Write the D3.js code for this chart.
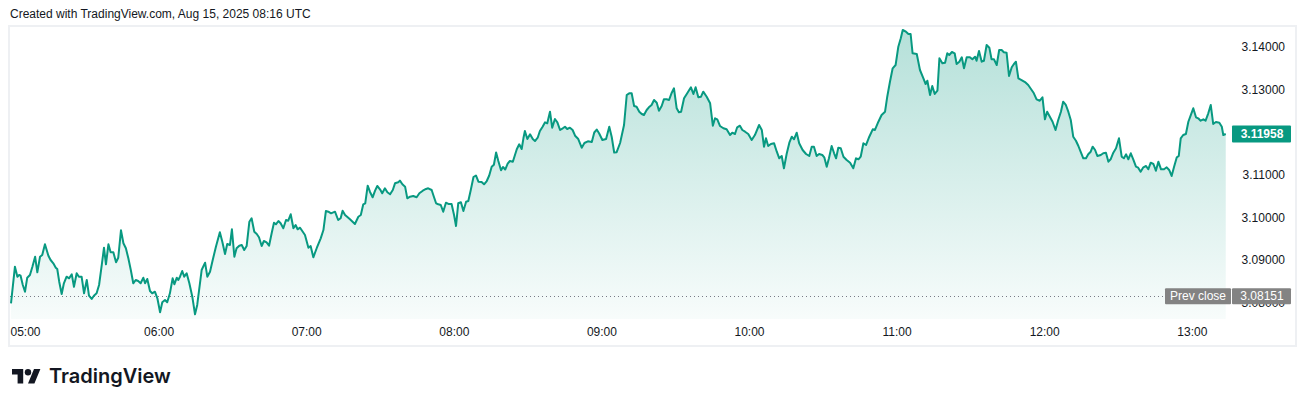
<!DOCTYPE html>
<html>
<head>
<meta charset="utf-8">
<script src="https://cdn.jsdelivr.net/npm/d3@7"></script>
<style>
  html, body { margin: 0; padding: 0; background: #ffffff; }
  svg { display: block; font-family: "Liberation Sans", Arial, sans-serif; }
</style>
</head>
<body>
<div id="chart"></div>
<script>
// minutes after 05:00 (UTC) for each traced point
const minutes = [
  0.0, 1.6, 2.6, 3.3, 3.9, 4.8, 5.7, 6.6, 7.7, 8.7, 9.8, 10.7, 11.8, 12.7, 13.8, 15.2, 16.1, 17.2, 18.2, 18.8,
  19.6, 20.6, 21.5, 22.6, 23.6, 24.7, 25.6, 26.7, 27.6, 28.7, 29.7, 30.8, 31.7, 32.8, 33.7, 34.8, 35.8, 36.9, 37.8, 38.6,
  39.6, 40.5, 41.6, 42.7, 43.6, 44.7, 45.7, 46.7, 47.7, 48.7, 49.7, 50.7, 51.7, 52.7, 53.8, 54.5, 55.4, 56.5, 57.4, 58.5,
  59.5, 60.6, 61.5, 62.6, 63.5, 64.6, 65.7, 66.4, 67.4, 68.0, 68.7, 69.6, 70.4, 71.4, 72.5, 73.7, 74.8, 75.7, 77.5, 78.9,
  79.8, 80.9, 82.0, 83.3, 84.9, 85.9, 87.0, 87.9, 89.0, 89.8, 90.8, 91.7, 92.8, 93.8, 94.8, 95.8, 96.9, 97.8, 98.9, 99.9,
  100.8, 101.9, 102.8, 103.9, 104.9, 106.0, 106.9, 107.7, 108.7, 109.6, 110.7, 111.8, 112.7, 113.7, 114.8, 115.7, 116.5, 117.5, 119.5, 120.9,
  121.8, 122.9, 124.3, 125.9, 127.0, 128.0, 129.0, 130.1, 131.7, 133.0, 134.0, 134.8, 135.8, 137.8, 139.8, 141.2, 142.2, 143.2, 144.0, 145.0,
  145.9, 147.0, 148.0, 148.9, 150.0, 150.9, 152.0, 153.0, 154.1, 155.2, 156.1, 157.4, 158.1, 159.1, 160.2, 161.1, 162.2, 163.5, 164.9, 166.0,
  167.4, 168.7, 169.6, 171.0, 171.9, 172.8, 173.7, 174.7, 175.7, 176.8, 177.8, 179.1, 180.1, 180.9, 181.8, 182.9, 183.9, 185.0, 185.9, 186.9,
  188.0, 189.0, 190.0, 191.3, 192.3, 193.4, 194.4, 195.4, 196.3, 197.2, 198.1, 199.2, 200.0, 200.9, 201.9, 202.8, 204.0, 205.6, 206.6, 207.6,
  208.3, 208.9, 209.9, 211.0, 212.1, 213.0, 214.1, 215.0, 216.1, 217.1, 218.0, 219.1, 220.0, 221.1, 222.1, 223.2, 224.3, 225.2, 226.1, 227.2,
  228.3, 229.3, 230.6, 232.0, 233.1, 234.5, 236.1, 237.1, 238.1, 239.1, 240.4, 241.9, 243.2, 244.2, 245.2, 246.2, 247.6, 249.2, 250.3, 251.3,
  252.3, 253.3, 254.3, 255.4, 256.4, 257.3, 258.4, 259.3, 260.4, 261.4, 262.5, 263.4, 264.5, 265.4, 266.5, 267.5, 268.6, 269.5, 270.6, 271.5,
  272.4, 273.6, 274.7, 275.7, 276.4, 277.4, 278.3, 279.4, 280.5, 281.4, 282.8, 284.2, 285.3, 286.2, 287.1, 288.2, 289.6, 290.9, 292.3, 293.2,
  294.3, 295.2, 296.3, 297.3, 298.4, 299.7, 301.1, 302.4, 304.1, 305.2, 306.1, 306.9, 307.8, 308.9, 310.2, 311.3, 312.3, 313.3, 314.2, 315.3,
  316.4, 317.4, 318.3, 319.4, 320.4, 321.8, 323.2, 324.5, 325.5, 326.4, 327.5, 328.5, 329.8, 330.6, 331.6, 332.5, 333.6, 334.6, 335.4, 336.3,
  337.3, 338.4, 339.7, 341.1, 342.4, 343.5, 344.5, 345.4, 346.5, 347.6, 348.9, 350.3, 351.2, 352.6, 353.9, 355.3, 356.2, 357.3, 358.4, 359.6,
  360.7, 361.7, 362.5, 363.8, 364.8, 365.7, 366.5, 368.2, 369.5, 370.9, 371.8, 372.5, 373.6, 374.5, 375.5, 376.6, 377.4, 378.6, 379.7, 380.6,
  381.4, 382.5, 383.6, 384.4, 385.5, 386.5, 387.4, 388.5, 389.8, 390.8, 391.9, 392.5, 393.5, 394.6, 395.5, 396.6, 397.7, 398.6, 399.6, 400.7,
  401.7, 402.7, 403.6, 404.7, 405.7, 406.8, 407.7, 408.5, 409.5, 410.8, 412.2, 413.5, 414.9, 415.8, 416.9, 418.2, 419.3, 420.3, 421.2, 422.3,
  423.4, 424.6, 425.7, 426.8, 427.7, 428.8, 429.8, 430.8, 431.8, 432.9, 433.9, 434.8, 435.9, 437.0, 437.9, 438.9, 439.7, 440.7, 441.6, 443.0,
  444.0, 445.1, 446.1, 447.0, 448.1, 449.2, 450.4, 451.5, 452.4, 453.3, 454.2, 455.2, 456.2, 457.3, 458.2, 459.2, 460.3, 461.4, 462.3, 463.3,
  464.4, 465.4, 466.4, 467.5, 468.7, 469.8, 470.8, 471.8, 472.8, 473.9, 474.7, 475.5, 476.5, 477.6, 478.6, 479.7, 480.6, 481.7, 482.6, 483.6,
  484.7, 485.6, 486.7, 487.7, 488.7, 489.8, 491.2, 492.2, 492.8, 493.8
];

const prices = [
  3.07984, 3.08843, 3.08608, 3.08648, 3.08631, 3.08413, 3.08256, 3.08585, 3.08648, 3.08843, 3.09077, 3.08711, 3.09077, 3.09117, 3.09369, 3.09101, 3.09000, 3.08923, 3.08819, 3.08789,
  3.08491, 3.08202, 3.08453, 3.08608, 3.08570, 3.08664, 3.08373, 3.08688, 3.08608, 3.08608, 3.08218, 3.08531, 3.08162, 3.08085, 3.08162, 3.08218, 3.08413, 3.08883, 3.09289, 3.08899,
  3.09369, 3.09181, 3.09181, 3.08946, 3.09054, 3.09697, 3.09392, 3.09275, 3.09040, 3.08765, 3.08453, 3.08531, 3.08507, 3.08453, 3.08585, 3.08453, 3.08554, 3.08272, 3.08218, 3.08256,
  3.08101, 3.07772, 3.08007, 3.08061, 3.08007, 3.08218, 3.08570, 3.08430, 3.08585, 3.08531, 3.08608, 3.08742, 3.08608, 3.08688, 3.08453, 3.08138, 3.07725, 3.07944, 3.08765, 3.08937,
  3.08608, 3.08725, 3.09000, 3.09312, 3.09650, 3.09430, 3.09141, 3.09376, 3.09352, 3.09721, 3.09077, 3.09275, 3.09336, 3.09352, 3.09235, 3.09329, 3.09899, 3.09979, 3.09664, 3.09610,
  3.09533, 3.09329, 3.09446, 3.09415, 3.09336, 3.09641, 3.09876, 3.09838, 3.09915, 3.09862, 3.09744, 3.09939, 3.09923, 3.10073, 3.09744, 3.09822, 3.09721, 3.09758, 3.09587, 3.09289,
  3.09329, 3.09063, 3.09282, 3.09509, 3.09704, 3.10150, 3.10134, 3.10096, 3.10134, 3.09939, 3.09979, 3.10157, 3.10056, 3.09955, 3.09845, 3.10016, 3.10056, 3.10308, 3.10331, 3.10744,
  3.10603, 3.10472, 3.10627, 3.10737, 3.10660, 3.10566, 3.10683, 3.10589, 3.10542, 3.10643, 3.10800, 3.10824, 3.10862, 3.10777, 3.10721, 3.10448, 3.10486, 3.10502, 3.10472, 3.10566,
  3.10627, 3.10667, 3.10683, 3.10643, 3.10486, 3.10331, 3.10308, 3.10291, 3.10134, 3.10345, 3.10315, 3.10315, 3.10056, 3.09798, 3.10331, 3.10355, 3.10150, 3.10369, 3.10385, 3.10643,
  3.10948, 3.10984, 3.10838, 3.10831, 3.10777, 3.10854, 3.10984, 3.11190, 3.11237, 3.11523, 3.11324, 3.11106, 3.11183, 3.11124, 3.11261, 3.11324, 3.11308, 3.11599, 3.11716, 3.11606,
  3.11857, 3.12028, 3.11840, 3.11951, 3.11840, 3.11793, 3.11871, 3.12028, 3.12129, 3.12232, 3.12209, 3.12481, 3.12106, 3.12310, 3.12232, 3.12052, 3.12092, 3.12129, 3.12075, 3.12106,
  3.12052, 3.11918, 3.11840, 3.11636, 3.11747, 3.11786, 3.11770, 3.11993, 3.12063, 3.11970, 3.11817, 3.11840, 3.12129, 3.11887, 3.11523, 3.11531, 3.11747, 3.12169, 3.12873, 3.12913,
  3.12913, 3.12615, 3.12599, 3.12481, 3.12427, 3.12404, 3.12521, 3.12585, 3.12639, 3.12756, 3.12692, 3.12505, 3.12615, 3.12772, 3.12772, 3.12756, 3.12927, 3.13031, 3.12561, 3.12467,
  3.12481, 3.12796, 3.12897, 3.12991, 3.13054, 3.12897, 3.13054, 3.12819, 3.12833, 3.12951, 3.12833, 3.12678, 3.12153, 3.12326, 3.12303, 3.12146, 3.12092, 3.12068, 3.11934, 3.11988,
  3.11958, 3.12115, 3.12153, 3.12052, 3.12012, 3.11958, 3.11817, 3.11934, 3.12169, 3.12052, 3.11660, 3.11857, 3.11676, 3.11723, 3.11739, 3.11542, 3.11387, 3.11441, 3.11153, 3.11488,
  3.11754, 3.11894, 3.11833, 3.11988, 3.11739, 3.11582, 3.11488, 3.11441, 3.11660, 3.11660, 3.11441, 3.11488, 3.11465, 3.11411, 3.11190, 3.11387, 3.11676, 3.11505, 3.11387, 3.11636,
  3.11622, 3.11425, 3.11347, 3.11284, 3.11153, 3.11387, 3.11364, 3.11425, 3.11739, 3.11700, 3.11894, 3.12068, 3.12052, 3.12246, 3.12404, 3.12481, 3.12833, 3.13185, 3.13500, 3.13577,
  3.14007, 3.14204, 3.14399, 3.14359, 3.14305, 3.14305, 3.13852, 3.13836, 3.13460, 3.13265, 3.13131, 3.13209, 3.12873, 3.13085, 3.12897, 3.12974, 3.13735, 3.13617, 3.13631, 3.13852,
  3.13812, 3.13883, 3.13852, 3.13601, 3.13655, 3.13758, 3.13500, 3.13758, 3.13758, 3.13711, 3.13772, 3.13678, 3.13906, 3.13655, 3.13678, 3.14047, 3.13984, 3.13711, 3.13711, 3.13577,
  3.13930, 3.13930, 3.13876, 3.13866, 3.13319, 3.13523, 3.13601, 3.13655, 3.13265, 3.13225, 3.13178, 3.13108, 3.12991, 3.12913, 3.12772, 3.12739, 3.12819, 3.12303, 3.12481, 3.12364,
  3.12246, 3.12052, 3.12286, 3.12481, 3.12716, 3.12639, 3.12481, 3.12286, 3.11894, 3.11800, 3.11676, 3.11542, 3.11387, 3.11387, 3.11481, 3.11542, 3.11660, 3.11582, 3.11441, 3.11465,
  3.11505, 3.11519, 3.11308, 3.11364, 3.11519, 3.11622, 3.11857, 3.11425, 3.11387, 3.11481, 3.11364, 3.11505, 3.11364, 3.11190, 3.11167, 3.11073, 3.11176, 3.11207, 3.11129, 3.11284,
  3.11254, 3.11096, 3.11308, 3.11129, 3.11129, 3.11176, 3.11113, 3.10972, 3.11190, 3.11411, 3.11441, 3.11857, 3.11934, 3.11958, 3.12246, 3.12420, 3.12561, 3.12350, 3.12326, 3.12270,
  3.12303, 3.12270, 3.12444, 3.12639, 3.12193, 3.12239, 3.12223, 3.12129, 3.11934, 3.11958
];

const priceTicks = [3.08, 3.09, 3.10, 3.11, 3.12, 3.13, 3.14];
const hourTicks = ["05:00", "06:00", "07:00", "08:00", "09:00", "10:00", "11:00", "12:00", "13:00"];
const prevClose = 3.08151;
const lastPrice = 3.11958;
const headerText = "Created with TradingView.com, Aug 15, 2025 08:16 UTC";

const width = 1306, height = 407;
const teal = "#089981";
const textColor = "#131722";

const base = new Date(Date.UTC(2025, 7, 15, 5, 0));
const data = minutes.map((m, i) => ({
    t: new Date(base.getTime() + m * 60000),
    v: prices[i]
}));

const svg = d3.select("#chart").append("svg")
    .attr("width", width)
    .attr("height", height);

// scales
const x = d3.scaleUtc()
    .domain([base, d3.utcHour.offset(base, 8)])
    .range([11, 11 + 480 * 2.46]);

const y = d3.scaleLinear()
    .domain([3.08, 3.14])
    .range([302.6, 47]);

const paneTop = 27, paneBottom = 319, paneRight = 1229;

// header
svg.append("text")
    .attr("x", 10)
    .attr("y", 18)
    .attr("font-size", 12)
    .attr("fill", textColor)
    .text(headerText);

// frame
svg.append("rect")
    .attr("x", 9)
    .attr("y", 26)
    .attr("width", 1287)
    .attr("height", 320)
    .attr("fill", "none")
    .attr("stroke", "#eef0f3")
    .attr("stroke-width", 2);

// gradient fill
const defs = svg.append("defs");
const grad = defs.append("linearGradient")
    .attr("id", "areaGrad")
    .attr("gradientUnits", "userSpaceOnUse")
    .attr("x1", 0).attr("x2", 0)
    .attr("y1", 30).attr("y2", paneBottom);
grad.append("stop").attr("offset", 0).attr("stop-color", teal).attr("stop-opacity", 0.3);
grad.append("stop").attr("offset", 1).attr("stop-color", teal).attr("stop-opacity", 0.03);

const area = d3.area()
    .x(d => x(d.t))
    .y0(paneBottom)
    .y1(d => y(d.v));

svg.append("path")
    .datum(data)
    .attr("d", area)
    .attr("fill", "url(#areaGrad)");

// prev close dotted line
svg.append("line")
    .attr("x1", 10)
    .attr("x2", paneRight)
    .attr("y1", Math.round(y(prevClose)) + 0.5)
    .attr("y2", Math.round(y(prevClose)) + 0.5)
    .attr("stroke", "#787b86")
    .attr("stroke-width", 1)
    .attr("stroke-dasharray", "1,3");

// price line
const line = d3.line()
    .x(d => x(d.t))
    .y(d => y(d.v));

svg.append("path")
    .datum(data)
    .attr("d", line)
    .attr("fill", "none")
    .attr("stroke", teal)
    .attr("stroke-width", 2)
    .attr("stroke-linejoin", "round");

// price axis
const yAxis = svg.append("g")
    .attr("transform", "translate(1285,0)")
    .call(d3.axisLeft(y).tickValues(priceTicks).tickFormat(d3.format(".5f")).tickSize(0).tickPadding(0));
yAxis.select(".domain").remove();
yAxis.selectAll("text")
    .attr("font-size", 12)
    .attr("font-family", "\"Liberation Sans\", Arial, sans-serif")
    .attr("fill", textColor);

// time axis
const hourDates = hourTicks.map(h => new Date(Date.UTC(2025, 7, 15, +h.slice(0, 2), +h.slice(3))));
const xAxis = svg.append("g")
    .attr("transform", `translate(0,${paneBottom})`)
    .call(d3.axisBottom(x).tickValues(hourDates).tickFormat(d3.utcFormat("%H:%M")).tickSize(0).tickPadding(8));
xAxis.select(".domain").remove();
xAxis.selectAll("text")
    .attr("font-size", 12)
    .attr("font-family", "\"Liberation Sans\", Arial, sans-serif")
    .attr("fill", textColor);
// first label is pushed inside the pane edge
xAxis.selectAll(".tick").filter((d, i) => i === 0).select("text")
    .attr("text-anchor", "start")
    .attr("x", 10 - x(hourDates[0]));

// last price label
const lastY = y(lastPrice);
svg.append("rect")
    .attr("x", 1232).attr("y", lastY - 8.5)
    .attr("width", 59).attr("height", 17)
    .attr("rx", 1)
    .attr("fill", teal);
svg.append("text")
    .attr("x", 1262).attr("y", lastY + 4)
    .attr("text-anchor", "middle")
    .attr("font-size", 12)
    .attr("font-weight", "bold")
    .attr("fill", "#ffffff")
    .text(d3.format(".5f")(lastPrice));

// prev close labels
const pcY = y(prevClose);
svg.append("rect")
    .attr("x", 1165).attr("y", pcY - 8)
    .attr("width", 66).attr("height", 16)
    .attr("rx", 1)
    .attr("fill", "#838383");
svg.append("text")
    .attr("x", 1198).attr("y", pcY + 4)
    .attr("text-anchor", "middle")
    .attr("font-size", 12)
    .attr("fill", "#ffffff")
    .text("Prev close");
svg.append("rect")
    .attr("x", 1232).attr("y", pcY - 8)
    .attr("width", 59).attr("height", 16)
    .attr("rx", 1)
    .attr("fill", "#838383");
svg.append("text")
    .attr("x", 1262).attr("y", pcY + 4)
    .attr("text-anchor", "middle")
    .attr("font-size", 12)
    .attr("fill", "#ffffff")
    .text(d3.format(".5f")(prevClose));

// TradingView logo
const logo = svg.append("g").attr("transform", "translate(12,365.8) scale(0.8)");
logo.append("path")
    .attr("d", "M14 22H7V11H0V4h14v18zM28 22h-8l7.5-18h8L28 22z")
    .attr("fill", textColor);
logo.append("circle")
    .attr("cx", 20).attr("cy", 8).attr("r", 4)
    .attr("fill", textColor);
svg.append("text")
    .attr("x", 49)
    .attr("y", 383)
    .attr("font-size", 20)
    .attr("font-weight", "600")
    .attr("font-family", "Inter, \"Liberation Sans\", Arial, sans-serif")
    .attr("fill", textColor)
    .text("TradingView");
</script>
</body>
</html>
